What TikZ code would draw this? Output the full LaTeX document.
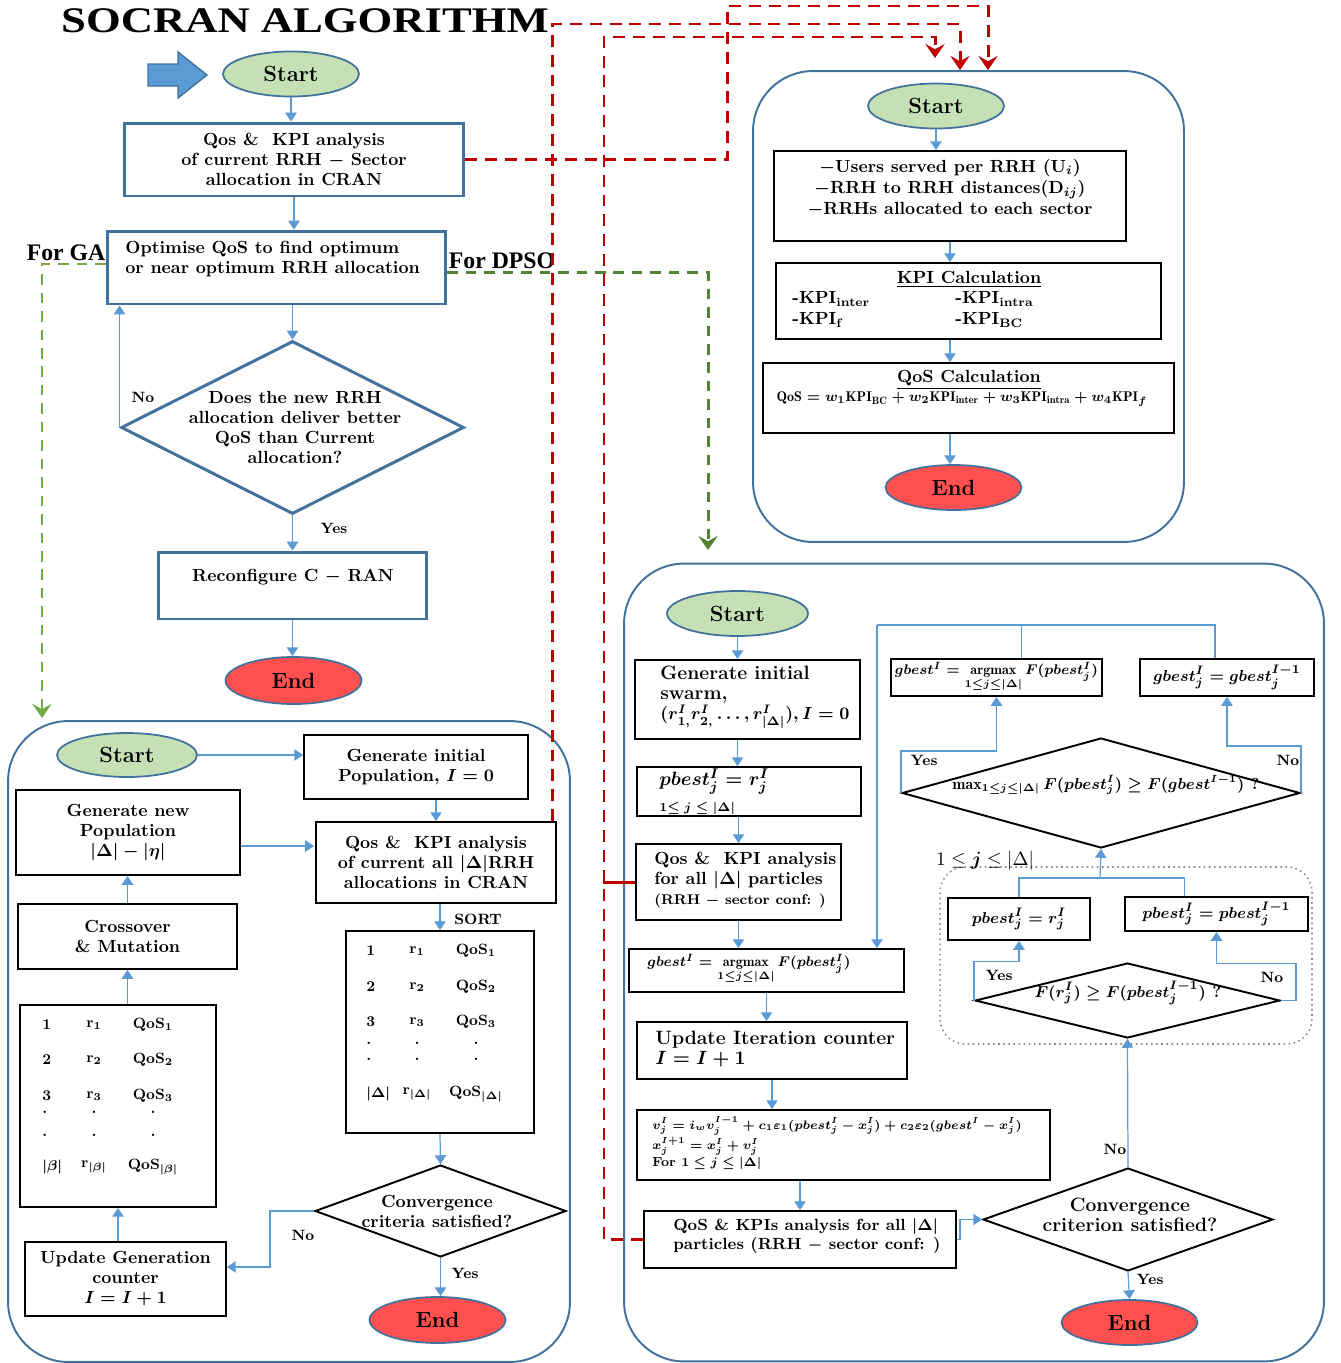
\documentclass[tikz,border=0pt]{standalone}
\usepackage{amsmath,amssymb}
\usepackage{graphicx}
\usepackage{fontspec}
\usepackage{tikz}
\usetikzlibrary{arrows.meta,shapes.geometric,positioning}
\newfontfamily\headfont{Liberation Serif}
\definecolor{nodeblue}{HTML}{41719C}
\definecolor{flowc}{HTML}{5B9BD5}
\definecolor{startc}{HTML}{C5E0B4}
\definecolor{endc}{HTML}{FF5050}
\definecolor{linkc}{HTML}{C00000}
\definecolor{gac}{HTML}{70AD47}
\definecolor{psoc}{HTML}{548235}
\definecolor{loopc}{HTML}{8C8C8C}
\tikzset{
  boxtext/.style={font=\fontsize{10}{11.4}\selectfont\bfseries\boldmath, align=center, inner sep=0pt},
  kpitext/.style={font=\fontsize{10}{12}\selectfont\bfseries\boldmath, align=left, inner sep=0pt},
  psotext/.style={font=\fontsize{11}{11.6}\selectfont\bfseries\boldmath, align=left, inner sep=0pt},
  mathtext/.style={font=\fontsize{9.5}{11}\selectfont\bfseries\boldmath, inner sep=0pt},
  tabletext/.style={font=\fontsize{8.5}{10}\selectfont\bfseries\boldmath, inner sep=0pt},
  tagtext/.style={font=\fontsize{8.5}{10}\selectfont\bfseries, inner sep=0pt},
  routetext/.style={font=\headfont\bfseries\fontsize{13.5}{15}\selectfont, inner sep=0pt},
  titletext/.style={font=\headfont\bfseries\fontsize{20.5}{22}\selectfont, inner sep=0pt},
  termnode/.style={ellipse, draw=nodeblue, line width=1pt, minimum width=2.72cm,
    minimum height=0.9cm, inner sep=0pt, font=\fontsize{12.5}{14}\selectfont\bfseries},
  startnode/.style={termnode, fill=startc},
  endnode/.style={termnode, fill=endc},
  bluebox/.style={rectangle, draw=nodeblue, line width=1.7pt, fill=white, inner sep=0pt},
  blackbox/.style={rectangle, draw=black, line width=1.1pt, fill=white, inner sep=0pt},
  bluediamond/.style={diamond, draw=nodeblue, line width=1.7pt, fill=white, inner sep=0pt},
  blackdiamond/.style={diamond, draw=black, line width=1.1pt, fill=white, inner sep=0pt},
  panelbox/.style={rectangle, draw=nodeblue, line width=1.1pt, rounded corners=1.2cm, inner sep=0pt},
  loopbox/.style={rectangle, draw=loopc, line width=0.9pt, dotted, rounded corners=0.5cm, inner sep=0pt},
  flowline/.style={draw=flowc, line width=0.7pt},
  flowedge/.style={flowline, -{Triangle[length=5pt, width=6.5pt]}},
  linkline/.style={draw=linkc, line width=1.7pt},
  linkedge/.style={linkline, dash pattern=on 6.8pt off 4.5pt, -{Stealth[length=8pt, width=11pt, inset=3pt]}},
  gaedge/.style={draw=gac, line width=1.7pt, dash pattern=on 6pt off 4.5pt, -{Stealth[length=8pt, width=11pt, inset=3pt]}},
  psoedge/.style={gaedge, draw=psoc},
}

\begin{document}
\begin{tikzpicture}[x=0.02cm, y=-0.02cm]
\useasboundingbox (0,0) rectangle (1340,1363);

% the three sub-flow panels
\node[panelbox, minimum width=8.62cm, minimum height=9.42cm] (kpipanel) at (968.5,306.5) {};
\node[panelbox, minimum width=11.24cm, minimum height=12.82cm] (gapanel) at (289,1041.5) {};
\node[panelbox, minimum width=14cm, minimum height=15.96cm] (psopanel) at (974,962.5) {};

% main flow
\node[titletext] (title) at (305,21) {\scalebox{1.24}[1]{SOCRAN ALGORITHM}};
\draw[fill=flowc, draw=nodeblue, line width=0.8pt] (148,64) -- (178,64) -- (178,52) -- (207,75)
  -- (178,98) -- (178,86) -- (148,86) -- cycle;
\node[startnode] (start1) at (291,74) {Start};
\node[bluebox, boxtext, minimum width=6.8cm, minimum height=1.46cm] (qk) at (294,159.5)
  {Qos \&\ \ KPI analysis\\of current RRH $-$ Sector\\allocation in CRAN};
\node[bluebox, minimum width=6.78cm, minimum height=1.46cm] (opt) at (276.5,267.5) {};
\node[boxtext, align=left, anchor=west] (optt) at (125,259)
  {Optimise QoS to find optimum\\or near optimum RRH allocation};
\node[bluediamond, minimum width=6.86cm, minimum height=3.46cm] (qd) at (292.5,427.5) {};
\node[boxtext] (qdt) at (295,427) {Does the new RRH\\allocation deliver better\\QoS than Current\\allocation?};
\node[bluebox, minimum width=5.38cm, minimum height=1.34cm] (rec) at (292.5,585.5) {};
\node[boxtext] (rect) at (293,577) {Reconfigure C $-$ RAN};
\node[endnode, minimum height=0.94cm] (end1) at (293.5,680.5) {End};
\node[tagtext] (qdno) at (143,397) {No};
\node[tagtext] (qdyes) at (334,528) {Yes};
\node[routetext] (forga) at (66,253) {For GA};
\node[routetext] (forpso) at (502,261) {For DPSO};

\draw[flowedge] (start1.south) -- (start1 |- qk.north);
\draw[flowedge] (qk.south) -- (qk |- opt.north);
\draw[flowedge] (qd |- opt.south) -- (qd.north);
\draw[flowedge] (qd.west) -- (qd.west |- opt.south);
\draw[flowedge] (qd.south) -- (qd |- rec.north);
\draw[flowedge] (rec.south) -- (rec |- end1.north);

% KPI / QoS evaluation
\node[startnode] (start2) at (936,106) {Start};
\node[blackbox, minimum width=7.04cm, minimum height=1.8cm] (inp) at (950,196) {};
\node[kpitext, align=center] (inpt) at (950,188)
  {$-$Users served per RRH (U$_i$)\\$-$RRH to RRH distances(D$_{ij}$)\\$-$RRHs allocated to each sector};
\node[blackbox, minimum width=7.7cm, minimum height=1.52cm] (kpic) at (968.5,301) {};
\node[boxtext] (kpict) at (969,279) {\underline{KPI Calculation}};
\node[kpitext, anchor=west] (kpil) at (792,309.5) {-KPI$_{\text{inter}}$\\-KPI$_{\text{f}}$};
\node[kpitext, anchor=west] (kpir) at (955,309.5) {-KPI$_{\text{intra}}$\\-KPI$_{\text{BC}}$};
\node[blackbox, minimum width=8.22cm, minimum height=1.4cm] (qosc) at (968.5,398) {};
\node[boxtext] (qosct) at (969,380) {\underline{QoS Calculation}};
\node[boxtext, font=\fontsize{8}{9}\selectfont\bfseries\boldmath] (qosf) at (962,399)
  {$\mathrm{QoS}=w_1\mathrm{KPI}_{\mathrm{BC}}+w_2\mathrm{KPI}_{\mathrm{inter}}+w_3\mathrm{KPI}_{\mathrm{intra}}+w_4\mathrm{KPI}_f$};
\node[endnode] (end2) at (953.5,487.5) {End};

\draw[flowedge] (start2.south) -- (start2 |- inp.north);
\draw[flowedge] (inp.south) -- (inp |- kpic.north);
\draw[flowedge] (inp |- kpic.south) -- (inp |- qosc.north);
\draw[flowedge] (inp |- qosc.south) -- (inp |- end2.north);

% GA
\node[startnode, minimum width=2.8cm, minimum height=0.88cm] (start3) at (127,755) {Start};
\node[blackbox, boxtext, minimum width=4.48cm, minimum height=1.28cm] (gainit) at (416,767)
  {Generate initial\\Population, $I=0$};
\node[blackbox, boxtext, minimum width=4.8cm, minimum height=1.62cm] (gaqk) at (436,862.5)
  {Qos \&\ \ KPI analysis\\of current all $|\Delta|$RRH\\allocations in CRAN};
\node[tagtext] (sortlbl) at (478,919) {SORT};
\node[blackbox, minimum width=3.76cm, minimum height=4.04cm] (sortbox) at (440,1032) {};
\foreach \yy/\ca/\cb/\cc [count=\i] in {951/1/r$_1$/QoS$_1$, 987/2/r$_2$/QoS$_2$, 1022/3/r$_3$/QoS$_3$,
    1043/././., 1059/././., 1094/$|\Delta|$/r$_{|\Delta|}$/QoS$_{|\Delta|}$}
{
  \node[tabletext, anchor=west] (sorta\i) at (366,\yy) {\ca};
  \node[tabletext] (sortb\i) at (417,\yy) {\cb};
  \node[tabletext] (sortc\i) at (476,\yy) {\cc};
}
\node[blackdiamond, minimum width=5.02cm, minimum height=1.84cm] (gaconv) at (440.5,1211) {};
\node[boxtext] (gaconvt) at (437,1211) {Convergence\\criteria satisfied?};
\node[endnode, minimum height=0.92cm] (end3) at (437.5,1320) {End};
\node[tagtext] (gano) at (303,1235) {No};
\node[tagtext] (gayes) at (465,1273) {Yes};
\node[blackbox, boxtext, minimum width=4.02cm, minimum height=1.48cm] (gaupd) at (125.5,1279)
  {Update Generation\\counter\\$I=I+1$};
\node[blackbox, minimum width=3.92cm, minimum height=4.04cm] (popbox) at (118,1106) {};
\foreach \yy/\ca/\cb/\cc [count=\i] in {1025/1/r$_1$/QoS$_1$, 1060/2/r$_2$/QoS$_2$, 1096/3/r$_3$/QoS$_3$,
    1112/././., 1135/././., 1167/$|\beta|$/r$_{|\beta|}$/QoS$_{|\beta|}$}
{
  \node[tabletext, anchor=west] (popa\i) at (42,\yy) {\ca};
  \node[tabletext] (popb\i) at (94,\yy) {\cb};
  \node[tabletext] (popc\i) at (153,\yy) {\cc};
}
\node[blackbox, boxtext, minimum width=4.38cm, minimum height=1.3cm] (cross) at (127.5,936.5)
  {Crossover\\\& Mutation};
\node[blackbox, boxtext, minimum width=4.48cm, minimum height=1.7cm] (newpop) at (128,832.5)
  {Generate new\\Population\\$|\Delta|-|\eta|$};
\coordinate (popin) at (314,846);

\draw[flowedge] (start3.east) -- (start3 -| gainit.west);
\draw[flowedge] (gaqk |- gainit.south) -- (gaqk.north);
\draw[flowedge] (sortbox |- gaqk.south) -- (sortbox.north);
\draw[flowedge] (sortbox.south) -- (gaconv.north);
\draw[flowedge] (gaconv.south) -- (gaconv.south |- end3.north);
\draw[flowedge] (gaconv.west) -- ++(-44,0) |- ([yshift=0.24cm]gaupd.east);
\draw[flowedge] (popbox |- gaupd.north) -- (popbox.south);
\draw[flowedge] (cross |- popbox.north) -- (cross.south);
\draw[flowedge] (cross.north) -- (cross |- newpop.south);
\draw[flowedge] (newpop.east |- popin) -- (popin);

% DPSO
\node[startnode, minimum width=2.82cm] (start4) at (737.5,613.5) {Start};
\node[blackbox, minimum width=4.5cm, minimum height=1.58cm] (d1) at (747.5,699.5) {};
\node[psotext, anchor=west] (d1t) at (660,697)
  {Generate initial\\swarm,\\{\fontsize{10}{11}\selectfont$(r^{I}_{1,}r^{I}_{2,}\ldots,r^{I}_{|\Delta|}),I=0$}};
\node[blackbox, minimum width=4.48cm, minimum height=0.98cm] (d2) at (749,791.5) {};
\node[psotext, anchor=west] (d2t) at (659,792)
  {$pbest^{I}_{j}=r^{I}_{j}$\\[3pt]{\fontsize{7}{8}\selectfont 1$\le j\le|\Delta|$}};
\node[blackbox, minimum width=4.1cm, minimum height=1.52cm] (d3) at (738.5,882) {};
\node[boxtext, align=left, anchor=west] (d3t) at (654,880)
  {Qos \&\ \ KPI analysis\\for all $|\Delta|$ particles\\{\fontsize{8}{9}\selectfont (RRH $-$ sector conf: )}};
\node[blackbox, minimum width=5.5cm, minimum height=0.86cm] (d4) at (766.5,970.5) {};
\node[tabletext, anchor=west, font=\fontsize{8}{9}\selectfont\bfseries\boldmath] (d4t) at (647,969)
  {$gbest^{I}=\mathop{\mathrm{argmax}}\limits_{1\le j\le|\Delta|}F(pbest^{I}_{j})$};
\node[blackbox, minimum width=5.4cm, minimum height=1.14cm] (d5) at (772,1050.5) {};
\node[psotext, anchor=west] (d5t) at (655,1049) {Update Iteration counter\\$I=I+1$};
\node[blackbox, minimum width=8.26cm, minimum height=1.4cm] (d6) at (843.5,1145) {};
\node[tabletext, align=left, anchor=west, font=\fontsize{7.5}{9.8}\selectfont\bfseries\boldmath] (d6t) at (652,1143)
  {$v^{I}_{j}=i_{w}v^{I-1}_{j}+c_{1}\varepsilon_{1}(pbest^{I}_{j}-x^{I}_{j})+c_{2}\varepsilon_{2}(gbest^{I}-x^{I}_{j})$\\
   $x^{I+1}_{j}=x^{I}_{j}+v^{I}_{j}$\\For $1\le j\le|\Delta|$};
\node[blackbox, minimum width=6.24cm, minimum height=1.14cm] (d7) at (800,1239.5) {};
\node[boxtext, align=left, anchor=west, font=\fontsize{9.2}{10.5}\selectfont\bfseries\boldmath] (d7t) at (673,1236)
  {QoS \& KPIs analysis for all $|\Delta|$\\particles (RRH $-$ sector conf: )};
\node[blackdiamond, minimum width=5.8cm, minimum height=2.06cm] (dconv) at (1128,1219.5) {};
\node[psotext, align=center] (dconvt) at (1130,1215) {Convergence\\criterion satisfied?};
\node[endnode] (end4) at (1129.5,1322.5) {End};
\node[tagtext] (dno) at (1115,1149) {No};
\node[tagtext] (dyes) at (1150,1279) {Yes};

% personal / global best update
\node[loopbox, minimum width=7.44cm, minimum height=3.54cm] (pbloop) at (1126,955.5) {};
\node[font=\fontsize{11}{12}\selectfont, inner sep=0pt] (jrange) at (985,861) {$1\le\boldsymbol{j}\le|\Delta|$};
\node[blackdiamond, minimum width=6.1cm, minimum height=1.5cm] (pdiam) at (1127.5,1000.5) {};
\node[mathtext] (pdiamt) at (1128,993) {$F(r^{I}_{j})\ge F(pbest^{I-1}_{j})$ ?};
\node[blackbox, minimum width=2.84cm, minimum height=0.84cm, mathtext] (p1) at (1019,919) {$pbest^{I}_{j}=r^{I}_{j}$};
\node[blackbox, minimum width=3.66cm, minimum height=0.68cm, mathtext] (p2) at (1216.5,914) {$pbest^{I}_{j}=pbest^{I-1}_{j}$};
\node[tagtext] (pyes) at (999,975) {Yes};
\node[tagtext] (pno) at (1272,977) {No};
\node[blackdiamond, minimum width=7.96cm, minimum height=2.2cm] (gdiam) at (1101,793) {};
\node[mathtext, font=\fontsize{9}{10}\selectfont\bfseries\boldmath] (gdiamt) at (1106,785)
  {$\max_{1\le j\le|\Delta|}F(pbest^{I}_{j})\ge F(gbest^{I-1})$ ?};
\node[blackbox, minimum width=4.22cm, minimum height=0.74cm, tabletext, font=\fontsize{8}{9}\selectfont\bfseries\boldmath] (g1) at (996.5,677.5)
  {$gbest^{I}=\mathop{\mathrm{argmax}}\limits_{1\le j\le|\Delta|}F(pbest^{I}_{j})$};
\node[blackbox, minimum width=3.48cm, minimum height=0.74cm, mathtext] (g2) at (1227,677.5) {$gbest^{I}_{j}=gbest^{I-1}_{j}$};
\node[tagtext] (gyes) at (924,760) {Yes};
\node[tagtext] (gno) at (1288,760) {No};
\coordinate (ptop) at (1100,878);
\coordinate (gtop) at (877,625);

\draw[flowedge] (start4.south) -- (start4 |- d1.north);
\draw[flowedge] (start4 |- d1.south) -- (start4 |- d2.north);
\draw[flowedge] (d3 |- d2.south) -- (d3.north);
\draw[flowedge] (d3.south) -- (d3 |- d4.north);
\draw[flowedge] (d4.south) -- (d4 |- d5.north);
\draw[flowedge] (d5.south) -- (d5 |- d6.north);
\draw[flowedge] (d7 |- d6.south) -- (d7.north);
\draw[flowedge] (d7.east) -- ++(3,0) |- (dconv.west);
\draw[flowedge] (dconv.north) -- (pdiam.south);
\draw[flowedge] (dconv.south) -- (end4.north);
\draw[flowedge] (pdiam.west) -- ++(0,-39) -| (p1.south);
\draw[flowedge] (pdiam.east) -- ++(15,0) -- ++(0,-37) -| (p2.south);
\draw[flowline] (p1.north) |- (ptop) -| ([xshift=-0.64cm]p2.north);
\draw[flowedge] (ptop) -- (gdiam.south);
\draw[flowedge] (gdiam.west) -- ++(0,-42) -| (g1.south);
\draw[flowedge] (gdiam.east) -- ++(0,-47) -| (g2.south);
\draw[flowline] ([xshift=-0.24cm]g2.north) |- (gtop);
\draw[flowline] ([xshift=0.5cm]g1.north) -- ++(0,-34);
\draw[flowedge] (gtop) -- (gtop |- d4.north);

% routes to the sub-flows
\coordinate (gain) at (42,718);
\coordinate (psoin) at (708,550);
\draw[gaedge] ([yshift=0.07cm]opt.west) -| (gain);
\draw[psoedge] ([yshift=-0.1cm]opt.east) -| (psoin);
\coordinate (kpiina) at (935,58);
\coordinate (kpiinb) at (960,70);
\coordinate (kpiinc) at (988,70);
\draw[linkedge] (qk.east) -| (727,6) -| (kpiinc);
\draw[linkedge] ([xshift=-0.08cm]gaqk.north east) |- (960,24) -- (kpiinb);
\draw[linkedge] (d7.west) -| (604,37) -| (kpiina);
\draw[linkline] (d3.west) -- ++(-32,0);
\end{tikzpicture}
\end{document}
